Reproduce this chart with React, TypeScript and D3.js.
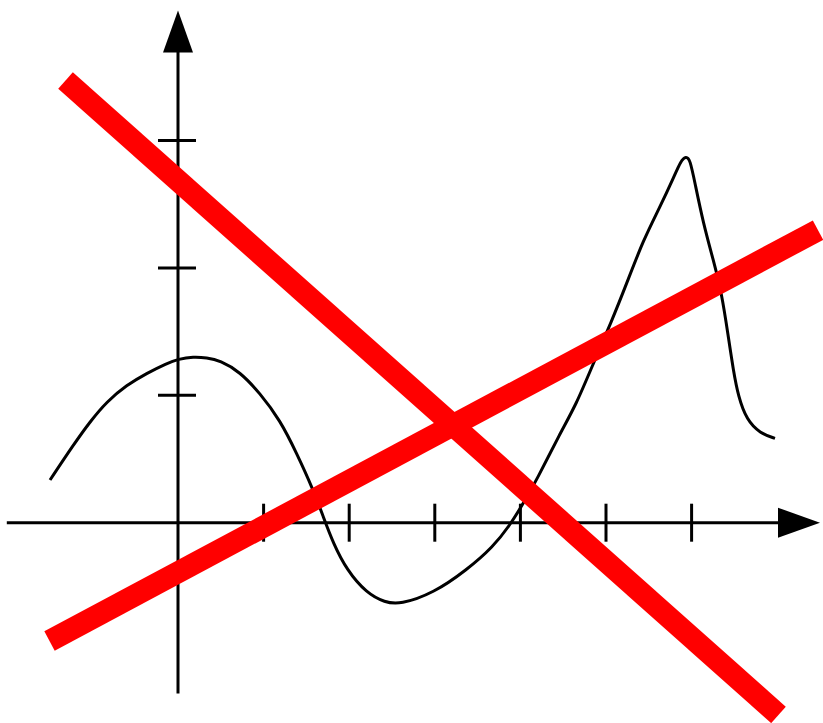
import React from "react";
import * as d3 from "d3";

// Axis extents (data units)
const xExtent = [-2, 7.5];
const yExtent = [-1.34, 4.02];
const xTicks = [1, 2, 3, 4, 5, 6];
const yTicks = [1, 2, 3];

// Black curve (data units)
const curveX = [
  -1.495, -1.223, -1.028, -0.833, -0.599, -0.366, -0.132, 0.004, 0.179, 0.335, 0.491,
  0.724, 0.958, 1.192, 1.387, 1.581, 1.697, 1.814, 1.971, 2.204, 2.418, 2.593,
  2.982, 3.373, 3.683, 3.879, 4.034, 4.19, 4.463, 4.65, 4.852, 5.067, 5.242,
  5.436, 5.631, 5.786, 5.876, 5.935, 5.981, 6.04, 6.137, 6.254, 6.352, 6.429,
  6.487, 6.546, 6.644, 6.799, 6.974,
];
const curveY = [
  0.335, 0.61, 0.793, 0.95, 1.081, 1.173, 1.251, 1.285, 1.303, 1.295, 1.273,
  1.185, 1.016, 0.806, 0.545, 0.257, 0.047, -0.162, -0.371, -0.554, -0.626, -0.642,
  -0.554, -0.371, -0.188, -0.018, 0.152, 0.335, 0.702, 0.924, 1.251, 1.583, 1.879,
  2.219, 2.48, 2.703, 2.845, 2.875, 2.855, 2.664, 2.35, 2.062, 1.801, 1.46,
  1.199, 0.989, 0.806, 0.702, 0.662,
];

// Red strike lines (data units): [x1, y1, x2, y2]
const strikeA = [-1.314, 3.471, 7.015, -1.509];
const strikeB = [-1.501, -0.929, 7.477, 2.297];

const W = 823;
const H = 723;

export default function App() {
  const x = d3.scaleLinear().domain(xExtent).range([6.8, 820]);
  const y = d3.scaleLinear().domain(yExtent).range([693.4, 10.6]);

  const x0 = x(0);
  const y0 = y(0);

  const line = d3
    .line<number>()
    .x((_, i) => x(curveX[i]))
    .y((d) => y(d))
    .curve(d3.curveBasis);

  const xEnd = x(xExtent[1]);
  const yTop = y(yExtent[1]);
  const arrowLen = 42;
  const arrowHalf = 15;

  const strikes = [strikeA, strikeB];

  return (
    <svg
      width={W}
      height={H}
      style={{ position: "absolute", left: 0, top: 0, background: "#fff" }}
    >
      <rect width={W} height={H} fill="#fff" />
      {/* x axis */}
      <line x1={x(xExtent[0])} y1={y0} x2={xEnd - arrowLen + 2} y2={y0} stroke="#000" strokeWidth={3} />
      <path
        d={`M${xEnd},${y0} L${xEnd - arrowLen},${y0 - arrowHalf} L${xEnd - arrowLen},${y0 + arrowHalf} Z`}
        fill="#000"
      />
      {xTicks.map((t) => (
        <line key={"xt" + t} x1={x(t)} x2={x(t)} y1={y0 - 19} y2={y0 + 19} stroke="#000" strokeWidth={3} />
      ))}
      {/* y axis */}
      <line x1={x0} y1={y(yExtent[0])} x2={x0} y2={yTop + arrowLen - 2} stroke="#000" strokeWidth={3} />
      <path
        d={`M${x0},${yTop} L${x0 - arrowHalf},${yTop + arrowLen} L${x0 + arrowHalf},${yTop + arrowLen} Z`}
        fill="#000"
      />
      {yTicks.map((t) => (
        <line key={"yt" + t} x1={x0 - 20} x2={x0 + 18} y1={y(t)} y2={y(t)} stroke="#000" strokeWidth={3} />
      ))}
      {/* curve */}
      <path d={line(curveY) || ""} fill="none" stroke="#000" strokeWidth={3} strokeLinejoin="round" />
      {/* red strike lines */}
      {strikes.map((s, i) => (
        <line
          key={"s" + i}
          x1={x(s[0])}
          y1={y(s[1])}
          x2={x(s[2])}
          y2={y(s[3])}
          stroke="#ff0000"
          strokeWidth={22}
          strokeLinecap="butt"
        />
      ))}
    </svg>
  );
}
